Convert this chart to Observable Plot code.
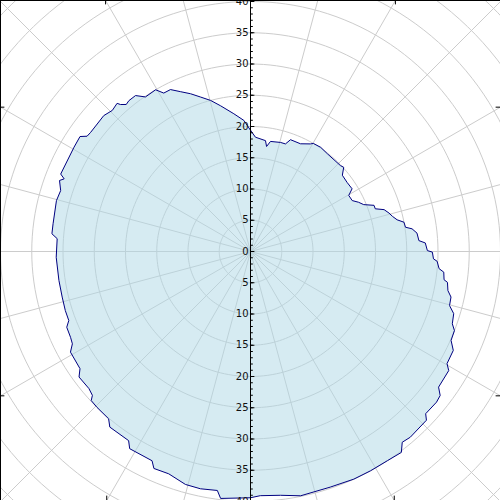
<!DOCTYPE html>
<html>
<head>
<meta charset="utf-8">
<script src="https://cdn.jsdelivr.net/npm/d3@7"></script>
<script src="https://cdn.jsdelivr.net/npm/@observablehq/plot@0.6"></script>
<style>
  html, body { margin: 0; padding: 0; background: #fff; }
  #chart svg { display: block; }
</style>
</head>
<body>
<div id="chart"></div>
<script>
// Angle (degrees, clockwise from north) and radius of each vertex of the outline
const angles = [0, 2.5, 7.7, 8.7, 10.3, 15.4, 18, 19.7, 24.9, 29.1, 30.2, 34, 38.1, 46.3, 47.9, 50.3, 54.4, 58.3, 60.3, 63.4, 65.5, 67.5, 69.5, 71.1, 72.6, 74.5, 76.1, 77.8, 79.2, 81.1, 82, 83.7, 86.3, 87.2, 89.7, 90.2, 92.3, 93, 95.2, 96.1, 98.3, 98.9, 101.2, 102.8, 105.2, 107, 109.7, 111.2, 113.9, 116, 119.7, 121, 125.8, 127.2, 129, 132.8, 133.8, 139.3, 141.5, 143.1, 146.8, 151.3, 155.6, 161.3, 168.4, 173, 177.7, 180, 186.9, 187.9, 191.9, 195.6, 200.2, 204, 205.2, 211.5, 212.8, 218.7, 220.3, 224.6, 226.9, 227.7, 229.7, 233.8, 235.5, 240.8, 242.6, 244.5, 247.6, 249.2, 252.3, 256.4, 261.4, 268.3, 273.8, 275.1, 278, 284.7, 287.8, 290.4, 291.3, 292.2, 300.6, 304, 305.2, 306.7, 312.8, 315.6, 318, 318.5, 319.8, 321.1, 323.6, 325.8, 329.6, 331.3, 333.7, 336.4, 339.2, 342, 345.2, 348.4, 353.1, 357.1];
const radii = [19.4, 18.3, 17.9, 17.0, 17.9, 18.1, 18.1, 19.0, 19.0, 19.7, 20.0, 20.1, 19.9, 19.9, 20.1, 19.1, 19.0, 19.1, 18.1, 18.2, 19.0, 19.6, 21.1, 21.1, 22.4, 23.0, 23.4, 24.0, 25.0, 25.1, 26.1, 26.8, 27.0, 28.0, 28.3, 29.1, 29.3, 29.9, 30.3, 31.1, 31.3, 31.9, 32.2, 32.9, 33.0, 34.0, 34.3, 35.0, 35.1, 36.1, 36.2, 37.0, 37.1, 38.1, 38.3, 38.2, 39.0, 39.2, 39.0, 40.2, 40.0, 40.0, 40.0, 39.8, 39.9, 39.3, 39.1, 39.4, 39.8, 38.6, 38.8, 38.7, 37.9, 38.0, 37.0, 37.0, 36.0, 36.0, 35.1, 35.0, 34.9, 34.2, 33.9, 34.0, 33.1, 33.0, 32.1, 31.9, 31.8, 31.1, 31.1, 31.0, 31.0, 31.1, 31.0, 31.9, 31.9, 32.1, 31.9, 32.6, 32.0, 32.8, 32.8, 32.9, 32.0, 31.9, 32.0, 31.6, 31.9, 31.4, 30.8, 31.0, 31.0, 29.9, 30.0, 28.9, 28.9, 27.9, 27.0, 26.0, 25.0, 23.8, 22.2, 21.0];

// Grid and axis definitions
const gridRadii = [5, 10, 15, 20, 25, 30, 35, 40, 45, 50, 55];
const spokeAngles = [0, 15, 30, 45, 60, 75, 90, 105, 120, 135, 150, 165, 180, 195, 210, 225, 240, 255, 270, 285, 300, 315, 330, 345];
const frameTickAngles = [30, 60, 120, 150, 210, 240, 300, 330];
const majorTicks = [-40, -35, -30, -25, -20, -15, -10, -5, 0, 5, 10, 15, 20, 25, 30, 35, 40];
const minorTicks = d3.range(-40, 41, 1);

const xDom = [-40, 40];
const yDom = [-39.84, 40.16];
const rad = a => a * Math.PI / 180;
const polar = (a, r) => ({x: r * Math.sin(rad(a)), y: r * Math.cos(rad(a))});

const outline = angles.map((a, i) => polar(a, radii[i]));
outline.push(outline[0]);

const circleAngles = d3.range(0, 361, 2);
const circles = gridRadii.flatMap(r => circleAngles.map(a => ({...polar(a, r), r})));
const spokes = spokeAngles.map(a => ({x1: 0, y1: 0, ...(p => ({x2: p.x, y2: p.y}))(polar(a, 70))}));

// Intersections of the 30° spokes with the frame
const frameTicks = frameTickAngles.map(a => {
  const s = Math.sin(rad(a)), c = Math.cos(rad(a));
  const tx = Math.abs(xDom[1] / s);
  const ty = c > 0 ? yDom[1] / c : yDom[0] / c;
  if (tx < ty) {
    const x = s > 0 ? xDom[1] : xDom[0];
    return {side: "v", x, y: tx * c, dir: s > 0 ? -1 : 1};
  } else {
    const y = c > 0 ? yDom[1] : yDom[0];
    return {side: "h", x: ty * s, y, dir: c > 0 ? -1 : 1};
  }
});
const tickLen = 0.7;

const chart = Plot.plot({
  width: 500,
  height: 500,
  margin: 0,
  x: {domain: xDom, axis: null},
  y: {domain: yDom, axis: null},
  style: {fontFamily: "DejaVu Sans", background: "#fff"},
  marks: [
    Plot.line(circles, {x: "x", y: "y", z: "r", stroke: "#cccccc", strokeWidth: 1, clip: true}),
    Plot.link(spokes, {x1: "x1", y1: "y1", x2: "x2", y2: "y2", stroke: "#cccccc", strokeWidth: 1, clip: true}),
    Plot.line(outline, {x: "x", y: "y", fill: "lightblue", fillOpacity: 0.5, stroke: "none", curve: "linear-closed"}),
    Plot.line(outline, {x: "x", y: "y", stroke: "#000080", strokeWidth: 1, curve: "linear"}),
    Plot.ruleX([0], {stroke: "black", strokeWidth: 1}),
    Plot.ruleY(minorTicks, {y: d => d, x1: 0, x2: 0.45, stroke: "black"}),
    Plot.ruleY(majorTicks, {y: d => d, x1: 0, x2: tickLen, stroke: "black"}),
    Plot.text(majorTicks, {x: 0, y: d => d, text: d => String(Math.abs(d)), textAnchor: "end", dx: -2, fontSize: 10, fill: "#111"}),
    Plot.ruleX([xDom[0]], {stroke: "black"}),
    Plot.ruleY([yDom[1]], {stroke: "black"}),
    Plot.ruleX(frameTicks.filter(d => d.side === "h"), {x: "x", y1: "y", y2: d => d.y + d.dir * tickLen, stroke: "black"}),
    Plot.ruleY(frameTicks.filter(d => d.side === "v"), {y: "y", x1: "x", x2: d => d.x + d.dir * tickLen, stroke: "black"})
  ]
});
document.getElementById("chart").appendChild(chart);
</script>
</body>
</html>
